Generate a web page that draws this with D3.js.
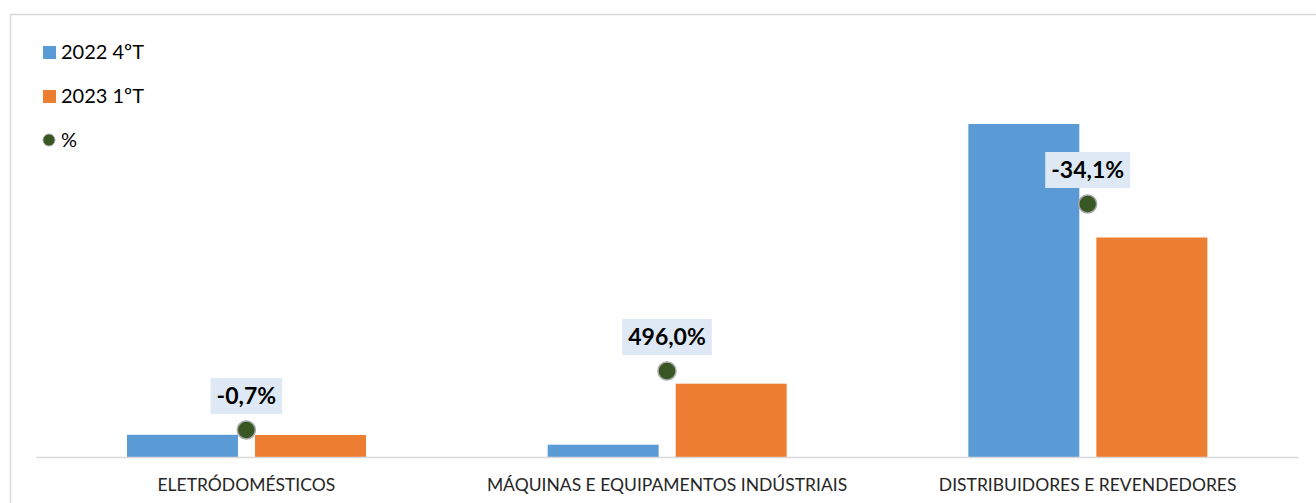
<!DOCTYPE html>
<html>
<head>
<meta charset="utf-8">
<script src="https://cdn.jsdelivr.net/npm/d3@7"></script>
<style>
  body { margin: 0; background: #fff; }
  svg { display: block; }
</style>
</head>
<body>
<svg id="chart" width="1316" height="503"></svg>
<script>
'use strict'

// data
var categories = ["ELETRÓDOMÉSTICOS", "MÁQUINAS E EQUIPAMENTOS INDÚSTRIAIS", "DISTRIBUIDORES E REVENDEDORES"];
var seriesNames = ["2022 4ºT", "2023 1ºT", "%"];
var q4_2022 = [22.2, 12.3, 333];
var q1_2023 = [22.0, 73.3, 219.5];
var pctLabels = ["-0,7%", "496,0%", "-34,1%"];
var pctLevel = [27, 86, 253]; // where the % markers sit

var colors = {blue: "#5b9bd5", orange: "#ed7d31", dot: "#385723"};

var svg = d3.select("#chart");
var fontFam = "Lato, 'Open Sans', sans-serif";

// frame
svg.append("path")
    .attr("d", "M10.5,503 V14.5 H1316")
    .attr("fill", "none").attr("stroke", "#d9d9d9").attr("stroke-width", 1.5);

var x = d3.scaleBand().domain(categories).range([36, 1298]);
// two bars per category, 111px wide with a 17px gap, centred in the band
var inner = d3.scaleBand().domain([0, 1]).range([91, 330]).paddingInner(0.133);
var y = d3.scaleLinear().domain([0, 400]).range([457, 57]);

// bars
var groups = svg.selectAll("g.cat")
    .data(categories)
    .enter().append("g").attr("class", "cat")
    .attr("transform", function(d){ return "translate(" + x(d) + ",0)"; });

groups.append("rect")
    .attr("x", inner(0)).attr("width", inner.bandwidth())
    .attr("y", function(d,i){ return y(q4_2022[i]); })
    .attr("height", function(d,i){ return y(0) - y(q4_2022[i]); })
    .attr("fill", colors.blue);

groups.append("rect")
    .attr("x", inner(1)).attr("width", inner.bandwidth())
    .attr("y", function(d,i){ return y(q1_2023[i]); })
    .attr("height", function(d,i){ return y(0) - y(q1_2023[i]); })
    .attr("fill", colors.orange);

// axis
var xAxis = svg.append("g").attr("transform", "translate(0," + y(0) + ")")
    .call(d3.axisBottom(x).tickSize(0).tickPadding(22));
xAxis.select(".domain").attr("stroke", "#d9d9d9").attr("stroke-width", 1.5);
xAxis.selectAll("text")
    .attr("font-family", fontFam).attr("font-size", 17.5).attr("fill", "#262626");

// % markers and labels
groups.append("circle")
    .attr("cx", x.bandwidth() / 2)
    .attr("cy", function(d,i){ return y(pctLevel[i]); })
    .attr("r", 9)
    .attr("fill", colors.dot).attr("stroke", "#a6a6a6").attr("stroke-width", 1.5);

groups.each(function(d,i){
    var g = d3.select(this);
    var cy = y(pctLevel[i]);
    var t = g.append("text")
        .attr("x", x.bandwidth() / 2).attr("y", cy - 26)
        .attr("text-anchor", "middle")
        .attr("font-family", fontFam).attr("font-weight", "bold").attr("font-size", 23)
        .attr("fill", "#000")
        .text(pctLabels[i]);
    var bb = t.node().getBBox();
    g.insert("rect", "text")
        .attr("x", x.bandwidth() / 2 - bb.width / 2 - 6).attr("y", cy - 52)
        .attr("width", bb.width + 12).attr("height", 36)
        .attr("fill", "#dee9f5");
});

// legend
var legend = svg.append("g").attr("transform", "translate(43,52)");
var legItems = legend.selectAll("g")
    .data(seriesNames)
    .enter().append("g")
    .attr("transform", function(d,i){ return "translate(0," + i * 44 + ")"; });

legItems.filter(function(d,i){ return i < 2; })
    .append("rect")
    .attr("x", 0).attr("y", -6).attr("width", 13).attr("height", 13)
    .attr("fill", function(d,i){ return i === 0 ? colors.blue : colors.orange; });

legItems.filter(function(d,i){ return i === 2; })
    .append("circle")
    .attr("cx", 6).attr("cy", 0).attr("r", 6)
    .attr("fill", colors.dot).attr("stroke", "#a6a6a6").attr("stroke-width", 1);

legItems.append("text")
    .attr("x", 18).attr("y", 7)
    .attr("font-family", fontFam).attr("font-size", 20).attr("fill", "#000")
    .text(function(d){ return d; });
</script>
</body>
</html>
